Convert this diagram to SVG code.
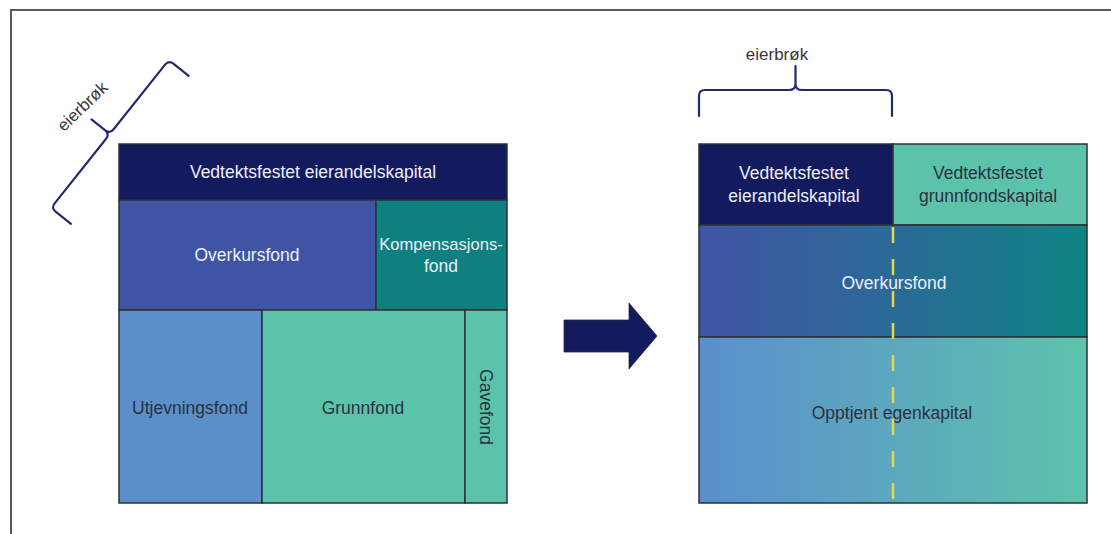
<svg xmlns="http://www.w3.org/2000/svg" width="1111" height="534" viewBox="0 0 1111 534">
<style>
.cell{stroke:#2e3138;stroke-width:1.5}
.lbl{font-family:"Liberation Sans",Arial,sans-serif;font-size:17.5px;text-anchor:middle}
.lt{fill:#eceef8}
.dk{fill:#2b3140}
.brace{fill:none;stroke:#222a6a;stroke-width:2.2;stroke-linejoin:round;stroke-linecap:round}
.eb{font-family:"Liberation Sans",Arial,sans-serif;font-size:17px;fill:#3d3530;text-anchor:middle}
</style>
<defs>
<linearGradient id="gOver" x1="0" y1="0" x2="1" y2="0">
<stop offset="0" stop-color="#3f55a3"/>
<stop offset="0.5" stop-color="#2a6a97"/>
<stop offset="1" stop-color="#0e8584"/>
</linearGradient>
<linearGradient id="gOpp" x1="0" y1="0" x2="1" y2="0">
<stop offset="0" stop-color="#5a8fcb"/>
<stop offset="0.5" stop-color="#5ca8bf"/>
<stop offset="1" stop-color="#5dc4aa"/>
</linearGradient>
<path id="braceShape" d="M0,26 L0,6 Q0,0 6,0 L90,0 Q96.5,0 96.5,-6 L96.5,-24 M96.5,-6 Q96.5,0 103,0 L187,0 Q193,0 193,6 L193,26"/>
</defs>
<rect width="1111" height="534" fill="#ffffff"/>
<path d="M11,534 L11,10 L1111,10" fill="none" stroke="#5a5a5a" stroke-width="2"/>

<g id="left-diagram">
<g id="n-vedtekt-eier"><rect class="cell" x="119" y="144" width="388" height="56" fill="#141a5e"/><text class="lbl lt" x="313" y="178">Vedtektsfestet eierandelskapital</text></g>
<g id="n-overkurs"><rect class="cell" x="119" y="200" width="257" height="110" fill="#3f55a3"/><text class="lbl lt" x="247" y="261">Overkursfond</text></g>
<g id="n-kompensasjon"><rect class="cell" x="376" y="200" width="131" height="110" fill="#0f8080"/><text class="lbl lt" x="441" y="250" style="font-size:16.6px">Kompensasjons-</text><text class="lbl lt" x="441" y="272">fond</text></g>
<g id="n-utjevning"><rect class="cell" x="119" y="310" width="143" height="193" fill="#5a8fc9"/><text class="lbl dk" x="190" y="414">Utjevningsfond</text></g>
<g id="n-grunnfond"><rect class="cell" x="262" y="310" width="203" height="193" fill="#5cc3ab"/><text class="lbl dk" x="363" y="414">Grunnfond</text></g>
<g id="n-gavefond"><rect class="cell" x="465" y="310" width="42" height="193" fill="#5cc3ab"/><text class="lbl dk" transform="translate(486,407) rotate(90)" x="0" y="6">Gavefond</text></g>
<g id="n-brace-left"><use href="#braceShape" class="brace" transform="translate(51,208) rotate(-51.5) scale(0.98)"/><text class="eb" transform="translate(83,107) rotate(-44)" x="0" y="5">eierbrøk</text></g>
</g>

<g id="connectors">
<polygon points="564,320 629,320 629,303 657,336 629,369 629,352 564,352" fill="#141a5e" stroke="#2a2a3a" stroke-width="0.8"/>
</g>

<g id="right-diagram">
<g id="n-r-eier"><rect class="cell" x="699" y="144" width="194" height="81" fill="#141a5e"/><text class="lbl lt" x="794" y="179">Vedtektsfestet</text><text class="lbl lt" x="794" y="202">eierandelskapital</text></g>
<g id="n-r-grunn"><rect class="cell" x="893" y="144" width="194" height="81" fill="#5cc3ab"/><text class="lbl dk" x="988" y="179">Vedtektsfestet</text><text class="lbl dk" x="988" y="202">grunnfondskapital</text></g>
<g id="n-r-overkurs"><rect class="cell" x="699" y="225" width="388" height="112" fill="url(#gOver)"/><text class="lbl lt" x="894" y="289">Overkursfond</text></g>
<g id="n-r-opptjent"><rect class="cell" x="699" y="337" width="388" height="166" fill="url(#gOpp)"/><text class="lbl dk" x="892" y="419">Opptjent egenkapital</text></g>
<line x1="893" y1="227" x2="893" y2="503" stroke="#e6d64a" stroke-width="2.5" stroke-dasharray="16 16"/>
<g id="n-brace-right"><use href="#braceShape" class="brace" transform="translate(699,90)"/><text class="eb" x="777" y="60">eierbrøk</text></g>
</g>
</svg>
